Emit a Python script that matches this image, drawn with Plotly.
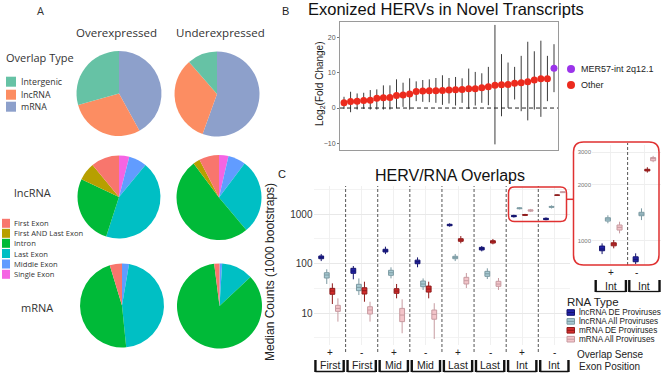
import plotly.graph_objects as go

W, H = 669, 375
def px(x): return x / W
def py(y): return 1 - y / H

FA = "Open Sans"
FB = "Liberation Sans, Arial"

# ---------------- Panel A data ----------------
overlap_types = ["Intergenic", "lncRNA", "mRNA"]
overlap_colors = ["#66C2A5", "#FC8D62", "#8DA0CB"]
top_over = [29.4, 28.6, 42.0]
top_under = [11.4, 33.1, 55.5]

exon_types = ["First Exon", "First AND Last Exon", "Intron", "Last Exon", "Middle Exon", "Single Exon"]
exon_colors = ["#F8766D", "#B79F00", "#00BA38", "#00BFC4", "#619CFF", "#F564E3"]
lnc_over = [11.0, 7.0, 27.0, 44.0, 7.0, 4.0]
lnc_under = [7.6, 2.6, 51.0, 28.7, 6.7, 3.6]
mrna_over = [4.7, 0.0, 46.9, 45.7, 2.7, 0.0]
mrna_under = [2.0, 0.0, 85.0, 12.0, 1.0, 0.0]

# ---------------- Panel B data ----------------
b_values = [1.48, 1.86, 1.95, 2.14, 2.24, 2.81, 2.90, 3.00, 3.57, 3.67, 3.95, 4.71, 4.81, 4.90, 4.90, 5.00,
            5.10, 5.19, 5.29, 5.48, 5.48, 5.76, 6.05, 6.43, 6.62, 6.71, 7.00, 7.19, 7.48, 7.95, 8.33, 8.33, 11.29]
b_upper = [3.19, 4.62, 4.14, 4.33, 5.10, 5.29, 6.43, 6.43, 8.14, 7.19, 8.43, 7.57, 7.95, 8.14, 8.52, 9.29,
           8.52, 8.81, 8.43, 11.19, 10.24, 9.86, 11.67, 23.57, 15.29, 12.90, 11.67, 14.80, 18.80, 16.10, 19.10, 14.80, 18.10]
b_lower = [-0.24, -1.19, -0.43, -0.24, -0.43, -0.43, -0.43, -0.43, -0.05, 0.33, -0.43, 1.95, 1.76, 1.67, 1.48, 0.90,
           1.29, 0.71, 1.48, -0.24, 0.71, 1.48, 0.81, -10.3, -2.33, 0.05, 2.43, -0.90, -3.50, -0.43, -2.50, 1.95, 4.50]
b_group = ["Other"] * 32 + ["MER57-int 2q12.1"]
b_legend = ["MER57-int 2q12.1", "Other"]
b_colors = {"Other": "#EC2B1E", "MER57-int 2q12.1": "#9B34EA"}

# ---------------- Panel C data ----------------
c_position = ["First", "First", "Mid", "Mid", "Last", "Last", "Int", "Int"]
c_sense = ["+", "-", "+", "-", "+", "-", "+", "-"]
rna_types = ["lncRNA DE Proviruses", "lncRNA All Proviruses", "mRNA DE Proviruses", "mRNA All Proviruses"]

lnc_de_med = [133, 70.5, 181, 108.6, 600, 200, 902, 794]
lnc_de_q1 = [125, 63.4, 171, 99, 580, 188, 883, 770]
lnc_de_q3 = [142, 80, 194, 117, 620, 212, 936, 819]
lnc_de_lo = [112, 48, 155, 84, 555, 176, 847, 748]
lnc_de_hi = [156, 89, 219, 133, 650, 226, 968, 855]

lnc_all_med = [58.6, 33, 65, 38.5, 133, 62, 1310, 1393]
lnc_all_q1 = [51, 28.3, 57.8, 34, 125, 55, 1277, 1365]
lnc_all_q3 = [65.2, 38, 73, 44.3, 140, 69.5, 1331, 1424]
lnc_all_lo = [38.6, 23.1, 50.1, 29.2, 112, 48.6, 1242, 1293]
lnc_all_hi = [76.4, 50, 83.8, 50, 156, 80, 1372, 1496]

mrna_de_med = [27.8, 28.2, 27.8, 30.5, 299, 276, 960, 2410]
mrna_de_q1 = [23.9, 24.2, 25, 26.5, 281, 259, 939, 2382]
mrna_de_q3 = [31.5, 32.4, 31, 35, 317, 289, 975, 2432]
mrna_de_lo = [15.2, 16.9, 19.8, 19.8, 256, 244, 910, 2333]
mrna_de_hi = [39.8, 42.9, 38.6, 42.9, 359, 313, 1009, 2494]

mrna_all_med = [12.4, 11.5, 9.1, 9.4, 45, 38.5, 1181, 2780]
mrna_all_q1 = [10.8, 9.55, 6.7, 7.5, 38.6, 34.6, 1142, 2704]
mrna_all_q3 = [14.3, 13.4, 12.4, 11.5, 52.6, 43.7, 1216, 2812]
mrna_all_lo = [6.7, 6.7, 3.9, 3.0, 32, 29.2, 1096, 2655]
mrna_all_hi = [19.8, 16.9, 18.9, 15.8, 64.3, 51, 1267, 2872]

c_fill = ["#2323A8", "#A7CAD3", "#D42B2B", "#F3C4C9"]
c_line = ["#14146E", "#7C9AA2", "#8E1B1B", "#C79BA1"]

fig = go.Figure()

# ---------------- Panel A pies ----------------
# slices run counter-clockwise from 12 o'clock in legend order (drawn clockwise on reversed lists)
pie_specs = [
    (overlap_types, top_over, overlap_colors, 119, 93.5, 42.5),
    (overlap_types, top_under, overlap_colors, 217, 94, 42.5),
    (exon_types, lnc_over, exon_colors, 119, 197, 41.5),
    (exon_types, lnc_under, exon_colors, 219, 197.5, 42.5),
    (exon_types, mrna_over, exon_colors, 122, 305.5, 42),
    (exon_types, mrna_under, exon_colors, 219.5, 306, 42.5),
]
for labels, vals, cols, cx, cy, r in pie_specs:
    fig.add_trace(go.Pie(labels=labels[::-1], values=vals[::-1], sort=False, direction="clockwise",
                         rotation=0, textinfo="none", showlegend=False,
                         marker=dict(colors=cols[::-1], line=dict(width=0)),
                         domain=dict(x=[px(cx - r), px(cx + r)], y=[py(cy + r), py(cy - r)])))

# ---------------- Panel B ----------------
b_x = list(range(1, len(b_values) + 1))
for grp in ["Other", "MER57-int 2q12.1"]:
    idx = [i for i, g in enumerate(b_group) if g == grp]
    fig.add_trace(go.Scatter(
        x=[b_x[i] for i in idx], y=[b_values[i] for i in idx], mode="markers",
        marker=dict(color=b_colors[grp], size=7),
        error_y=dict(type="data", symmetric=False,
                     array=[b_upper[i] - b_values[i] for i in idx],
                     arrayminus=[b_values[i] - b_lower[i] for i in idx],
                     color="#3c3c3c", thickness=1, width=0),
        xaxis="x", yaxis="y", showlegend=False, name=grp))

# ---------------- Panel C ----------------
series = [
    (lnc_de_med, lnc_de_q1, lnc_de_q3, lnc_de_lo, lnc_de_hi),
    (lnc_all_med, lnc_all_q1, lnc_all_q3, lnc_all_lo, lnc_all_hi),
    (mrna_de_med, mrna_de_q1, mrna_de_q3, mrna_de_lo, mrna_de_hi),
    (mrna_all_med, mrna_all_q1, mrna_all_q3, mrna_all_lo, mrna_all_hi),
]
offsets = [-0.26, -0.087, 0.087, 0.26]
for k, (med, q1, q3, lo, hi) in enumerate(series):
    xs = [i + offsets[k] for i in range(len(c_position))]
    common = dict(fillcolor=c_fill[k], line=dict(color=c_line[k], width=1), width=0.15,
                  whiskerwidth=0, boxpoints=False, showlegend=False, name=rna_types[k])
    fig.add_trace(go.Box(x=xs, q1=q1, median=med, q3=q3, lowerfence=lo, upperfence=hi,
                         xaxis="x2", yaxis="y2", **common))
    fig.add_trace(go.Box(x=xs[6:], q1=q1[6:], median=med[6:], q3=q3[6:], lowerfence=lo[6:],
                         upperfence=hi[6:], xaxis="x3", yaxis="y3", **common))

shapes = []
annotations = []

def txt(x, y, s, size, family=FB, color="#222", xanchor="center", angle=0, xref="paper", yref="paper"):
    annotations.append(dict(x=x, y=y, text=s, showarrow=False, xref=xref, yref=yref,
                            xanchor=xanchor, yanchor="middle", textangle=angle,
                            font=dict(size=size, family=family, color=color)))

# Panel A texts and legends
txt(px(40), py(11), "A", 11, FA, "#333")
txt(px(116), py(32), "Overexpressed", 11.5, FA, "#333")
txt(px(220), py(32), "Underexpressed", 11.5, FA, "#333")
txt(px(40), py(57), "Overlap Type", 11, FA, "#333")
for lab, col, yy in zip(overlap_types, overlap_colors, [81.7, 94.7, 106.7]):
    shapes.append(dict(type="rect", xref="paper", yref="paper", x0=px(6), x1=px(16),
                       y0=py(yy + 5), y1=py(yy - 5), fillcolor=col, line=dict(width=0)))
    txt(px(18.5), py(yy), lab, 8.8, FA, "#333", xanchor="left")
txt(px(32), py(192), "lncRNA", 11, FA, "#333")
txt(px(37), py(307), "mRNA", 11, FA, "#333")
for lab, col, yy in zip(exon_types, exon_colors, [223.3, 233.3, 243.3, 253.5, 264, 274.3]):
    shapes.append(dict(type="rect", xref="paper", yref="paper", x0=px(2), x1=px(10),
                       y0=py(yy + 4.5), y1=py(yy - 4.5), fillcolor=col, line=dict(width=0)))
    txt(px(12.3), py(yy), lab, 7.6, FA, "#333", xanchor="left")

# Panel B texts
txt(px(285), py(11), "B", 11, FB, "#222")
txt(px(446), py(9), "Exonized HERVs in Novel Transcripts", 16.5, FB, "#111")
txt(px(320), py(84), "Log<sub>2</sub>(Fold Change)", 10, FB, "#222", angle=-90)
shapes.append(dict(type="line", xref="x domain", yref="y", x0=0, x1=1, y0=0, y1=0,
                   line=dict(color="#222", width=1, dash="4px,3px")))
for lab, yy in zip(b_legend, [69, 85]):
    shapes.append(dict(type="circle", xref="paper", yref="paper", x0=px(567), x1=px(575),
                       y0=py(yy + 4), y1=py(yy - 4), fillcolor=b_colors[lab],
                       line=dict(width=0)))
    txt(px(578.5), py(yy), lab, 9, FB, "#222", xanchor="left")

# Panel C texts
txt(px(282), py(174), "C", 11, FB, "#222")
txt(px(450), py(175), "HERV/RNA Overlaps", 16, FB, "#111")
txt(px(270), py(272), "Median Counts (1000 bootstraps)", 12, FB, "#222", angle=-90)

n = len(c_position)
for i in range(n - 1):
    shapes.append(dict(type="line", xref="x2", yref="paper", x0=i + 0.5, x1=i + 0.5,
                       y0=py(352), y1=py(186), line=dict(color="#555", width=1, dash="3px,2px")))
for i in range(n):
    txt(i, py(352.3), c_sense[i], 10, FB, "#222", xref="x2")
    txt(i, py(365), c_position[i], 10.5, FB, "#222", xref="x2")
    d = 0.06
    shapes.append(dict(type="line", xref="x2", yref="paper", x0=i - 0.5 + d, x1=i + 0.5 - d,
                       y0=py(371.5), y1=py(371.5), line=dict(color="#111", width=1.3)))
    for xx in (i - 0.5 + d, i + 0.5 - d):
        shapes.append(dict(type="line", xref="x2", yref="paper", x0=xx, x1=xx,
                           y0=py(372), y1=py(360), line=dict(color="#111", width=2.4)))

# inset
shapes.append(dict(type="line", xref="x3", yref="paper", x0=6.5, x1=6.5, y0=py(265), y1=py(143),
                   line=dict(color="#555", width=1, dash="3px,2px")))
for i in (6, 7):
    txt(i if i == 6 else i - 0.25, py(272.7), c_sense[i], 10, FB, "#222", xref="x3")
    txt(i, py(285.5), c_position[i], 10.5, FB, "#222", xref="x3")
    d = 0.05
    shapes.append(dict(type="line", xref="x3", yref="paper", x0=i - 0.5 + d, x1=i + 0.5 - d,
                       y0=py(291.5), y1=py(291.5), line=dict(color="#111", width=1.3)))
    for xx in (i - 0.5 + d, i + 0.5 - d):
        shapes.append(dict(type="line", xref="x3", yref="paper", x0=xx, x1=xx,
                           y0=py(292), y1=py(280), line=dict(color="#111", width=2.4)))

def rounded(x0, y0, x1, y1, r):
    rx, ry = r / W, r / H
    X0, X1, YT, YB = px(x0), px(x1), py(y0), py(y1)
    return (f"M {X0+rx},{YT} L {X1-rx},{YT} Q {X1},{YT} {X1},{YT-ry} "
            f"L {X1},{YB+ry} Q {X1},{YB} {X1-rx},{YB} L {X0+rx},{YB} Q {X0},{YB} {X0},{YB+ry} "
            f"L {X0},{YT-ry} Q {X0},{YT} {X0+rx},{YT} Z")

shapes.append(dict(type="path", xref="paper", yref="paper", path=rounded(508.5, 187, 566.5, 221.5, 6),
                   line=dict(color="#E03131", width=1.5)))
shapes.append(dict(type="line", xref="paper", yref="paper", x0=px(566.5), x1=px(573.5),
                   y0=py(199.3), y1=py(199.3), line=dict(color="#E03131", width=1.5)))
shapes.append(dict(type="path", xref="paper", yref="paper", path=rounded(573.5, 142, 659, 265, 10),
                   line=dict(color="#E03131", width=1.5)))

# Panel C legend
txt(px(565), py(301.7), "RNA Type", 11.5, FB, "#222", xanchor="left")
for k, (lab, yy) in enumerate(zip(rna_types, [312.5, 321.4, 330.3, 339.2])):
    shapes.append(dict(type="rect", xref="paper", yref="paper", x0=px(567), x1=px(574.5),
                       y0=py(yy + 2.8), y1=py(yy - 2.8), fillcolor=c_fill[k],
                       line=dict(color=c_line[k], width=1)))
    shapes.append(dict(type="line", xref="paper", yref="paper", x0=px(567), x1=px(574.5),
                       y0=py(yy), y1=py(yy), line=dict(color=c_line[k], width=1)))
    txt(px(576.7), py(yy), lab, 8.2, FB, "#222", xanchor="left")
txt(px(575), py(354), "Overlap Sense", 10, FB, "#222", xanchor="left")
txt(px(576.5), py(366), "Exon Position", 10, FB, "#222", xanchor="left")

fig.update_layout(
    width=W, height=H, margin=dict(l=0, r=0, t=0, b=0),
    paper_bgcolor="white", plot_bgcolor="white", showlegend=False,
    xaxis=dict(domain=[px(340), px(558)], range=[0.39, 33.61], showticklabels=False, ticks="",
               showgrid=False, zeroline=False, showline=True, mirror=True, linecolor="#9a9a9a",
               linewidth=1, anchor="y"),
    yaxis=dict(domain=[py(150), py(22)], range=[-11.9, 24.4], tickvals=[-10, 0, 10, 20],
               ticks="outside", ticklen=2, tickcolor="#777",
               tickfont=dict(size=7, color="#555", family=FB), showgrid=False, zeroline=False,
               showline=True, mirror=True, linecolor="#9a9a9a", linewidth=1, anchor="x"),
    xaxis2=dict(domain=[px(313.5), px(570.4)], range=[-0.5, 7.5], tickvals=list(range(8)),
                showticklabels=False, ticks="", showgrid=True, gridcolor="#F0F0F0", zeroline=False,
                showline=False, anchor="y2"),
    yaxis2=dict(type="log", domain=[py(345), py(186)], range=[0.354, 3.566],
                tickvals=[10, 100, 1000], ticktext=["10", "100", "1000"], ticks="",
                tickfont=dict(size=10, color="#333", family=FB), showgrid=True, gridcolor="#E8E8E8",
                minor=dict(tickvals=[3.162, 31.62, 316.2, 3162], showgrid=True, gridcolor="#F3F3F3"),
                zeroline=False, showline=False, anchor="x2"),
    xaxis3=dict(domain=[px(592), px(661)], range=[5.44, 7.494], tickvals=[6, 7], showticklabels=False,
                ticks="", showgrid=True, gridcolor="#F0F0F0", zeroline=False, showline=False, anchor="y3"),
    yaxis3=dict(type="log", domain=[py(265), py(145)], range=[2.869, 3.517],
                tickvals=[1000, 2000, 3000], ticktext=["1000", "2000", "3000"], ticks="",
                tickfont=dict(size=6, color="#777", family=FB), showgrid=True, gridcolor="#EEEEEE",
                zeroline=False, showline=False, anchor="x3"),
    shapes=shapes, annotations=annotations,
)

fig.write_html("out.html", config={"displayModeBar": False},
               post_script="document.body.style.margin='0';document.body.style.overflow='hidden';")
